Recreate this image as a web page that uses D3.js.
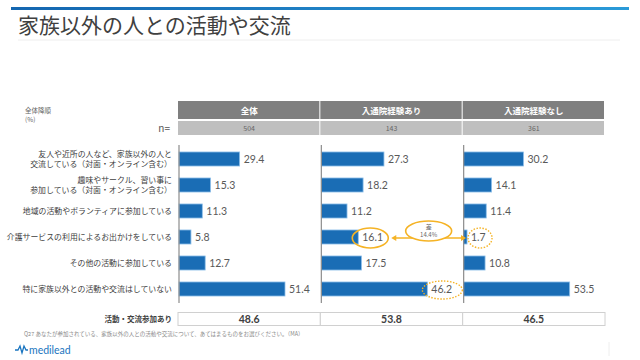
<!DOCTYPE html>
<html><head><meta charset="utf-8">
<script src="https://cdn.jsdelivr.net/npm/d3@7"></script>
<style>
html,body{margin:0;padding:0;background:#fff;}
svg{display:block;font-family:"Noto Sans CJK JP","Noto Sans",sans-serif;}
</style></head>
<body>
<svg id="c" width="640" height="360"></svg>
<script>
const title = "家族以外の人との活動や交流";
const categories = [
  ["友人や近所の人など、家族以外の人と","交流している（対面・オンライン含む）"],
  ["趣味やサークル、習い事に","参加している（対面・オンライン含む）"],
  ["地域の活動やボランティアに参加している"],
  ["介護サービスの利用によるお出かけをしている"],
  ["その他の活動に参加している"],
  ["特に家族以外との活動や交流はしていない"]
];
const groups = ["全体","入通院経験あり","入通院経験なし"];
const nValues = [504, 143, 361];
const valuesAll = [29.4, 15.3, 11.3, 5.8, 12.7, 51.4];
const valuesYes = [27.3, 18.2, 11.2, 16.1, 17.5, 46.2];
const valuesNo  = [30.2, 14.1, 11.4, 1.7, 10.8, 53.5];
const participation = [48.6, 53.8, 46.5];
const diffLabel = ["差","14.4%"];
const footnote = "Q27  あなたが参加されている、家族以外の人との活動や交流について、あてはまるものをお選びください。（MA）";

const series = [valuesAll, valuesYes, valuesNo];
const svg = d3.select("#c");

// top blue line
const grad = svg.append("defs").append("linearGradient").attr("id","g1");
grad.append("stop").attr("offset","0%").attr("stop-color","#1466b0");
grad.append("stop").attr("offset","100%").attr("stop-color","#2a9ad8");
svg.append("rect").attr("x",11).attr("y",7).attr("width",618).attr("height",3).attr("fill","url(#g1)");
svg.append("text").attr("x",18).attr("y",33).attr("font-size",21).attr("fill","#404040").text(title);
svg.append("line").attr("x1",18).attr("x2",620).attr("y1",40).attr("y2",40).attr("stroke","#eeeeee");

svg.append("text").attr("x",25).attr("y",113).attr("font-size",6.5).attr("fill","#666").text("全体降順");
svg.append("text").attr("x",25).attr("y",122).attr("font-size",6.5).attr("fill","#666").text("(%)");
svg.append("text").attr("x",170).attr("y",132).attr("font-size",10).attr("fill","#555").attr("text-anchor","end").text("n=");

const px = d3.scaleBand().domain(groups).range([178,605]).padding(0);
const y = d3.scaleBand().domain(d3.range(categories.length)).range([146,302]).paddingInner(0.46).paddingOuter(0.23);

// header
groups.forEach((g,i)=>{
  const x0 = px(g);
  svg.append("rect").attr("x",x0).attr("y",101).attr("width",px.bandwidth()-1).attr("height",18).attr("fill","#7f7f7f");
  svg.append("text").attr("x",x0+px.bandwidth()/2).attr("y",113.5).attr("text-anchor","middle").attr("font-size",8.5).attr("font-weight","bold").attr("fill","#fff").text(g);
  svg.append("rect").attr("x",x0).attr("y",121).attr("width",px.bandwidth()-1).attr("height",14).attr("fill","#bfbfbf");
  svg.append("text").attr("x",x0+px.bandwidth()/2).attr("y",131).attr("text-anchor","middle").attr("font-size",7).attr("fill","#666").text(nValues[i]);
});

// category labels
categories.forEach((lines,i)=>{
  const cy = y(i)+y.bandwidth()/2;
  const t = svg.append("text").attr("text-anchor","end").attr("font-size",7.9).attr("fill","#404040");
  const n = lines.length;
  lines.forEach((l,j)=>{
    t.append("tspan").attr("x",172).attr("y",cy + (j-(n-1)/2)*9.8 + 3).text(l);
  });
});

// panels
series.forEach((vals,i)=>{
  const x0 = px(groups[i]) + 1;
  const xs = d3.scaleLinear().domain([0,d3.max(vals)]).range([0,106]);
  const gp = svg.append("g").attr("transform",`translate(${x0},0)`);
  gp.selectAll("rect.bar").data(vals).join("rect").attr("class","bar")
    .attr("x",0).attr("y",(d,k)=>y(k)).attr("width",d=>xs(d)).attr("height",y.bandwidth())
    .attr("fill","#1a6db5").attr("stroke","#8fc0ea").attr("stroke-width",0.8);
  gp.selectAll("text.val").data(vals).join("text").attr("class","val")
    .attr("x",d=>xs(d)+4).attr("y",(d,k)=>y(k)+y.bandwidth()/2+4)
    .attr("font-size",10.5).attr("fill","#595959").attr("font-family","Lato, 'Noto Sans', sans-serif").text(d=>d.toFixed(1));
  gp.append("line").attr("x1",0).attr("x2",0).attr("y1",145).attr("y2",303).attr("stroke","#8c8c8c").attr("stroke-width",1.2);
});

// bottom row
svg.append("text").attr("x",172).attr("y",322).attr("text-anchor","end").attr("font-size",7.5).attr("font-weight","bold").attr("fill","#404040").text("活動・交流参加あり");
groups.forEach((g,i)=>{
  const x0 = px(g);
  svg.append("rect").attr("x",x0).attr("y",312.5).attr("width",px.bandwidth()).attr("height",13).attr("fill","#fff").attr("stroke","#d0d0d0");
  svg.append("text").attr("x",x0+px.bandwidth()/2).attr("y",323).attr("text-anchor","middle").attr("font-size",10.5).attr("font-weight","bold").attr("fill","#404040").attr("font-family","Lato, 'Noto Sans', sans-serif").text(participation[i].toFixed(1));
});

// annotations
const orange = "#f5b325";
function valCenter(si, k){
  const vals = series[si];
  const xs = d3.scaleLinear().domain([0,d3.max(vals)]).range([0,106]);
  return [px(groups[si])+1+xs(vals[k])+14, y(k)+y.bandwidth()/2];
}
const a1 = valCenter(1,3);
svg.append("ellipse").attr("cx",a1[0]-2).attr("cy",a1[1]+1).attr("rx",18).attr("ry",10).attr("fill","none").attr("stroke",orange).attr("stroke-width",1.6);
const a2 = valCenter(2,3);
svg.append("ellipse").attr("cx",a2[0]-1).attr("cy",a2[1]+1).attr("rx",12).attr("ry",10).attr("fill","none").attr("stroke",orange).attr("stroke-width",1.4).attr("stroke-dasharray","1.5,1.5");
const a3 = valCenter(1,5);
svg.append("ellipse").attr("cx",a3[0]+1).attr("cy",a3[1]+1).attr("rx",20).attr("ry",9).attr("fill","none").attr("stroke",orange).attr("stroke-width",1.4).attr("stroke-dasharray","1.5,1.5");
// arrow
const ax1 = a1[0]+19, ax2 = a2[0]-15, ay = a1[1]+1;
svg.append("line").attr("x1",ax1+4).attr("x2",ax2-4).attr("y1",ay).attr("y2",ay).attr("stroke",orange).attr("stroke-width",1.4);
svg.append("path").attr("d",`M${ax1},${ay} l5,-3 l0,6 z M${ax2},${ay} l-5,-3 l0,6 z`).attr("fill",orange);
const mcx = (ax1+ax2)/2, mcy = ay-7;
svg.append("ellipse").attr("cx",mcx).attr("cy",mcy).attr("rx",23).attr("ry",10).attr("fill","#fff").attr("stroke",orange).attr("stroke-width",1.6);
svg.append("text").attr("x",mcx).attr("y",mcy-2).attr("text-anchor","middle").attr("font-size",6).attr("fill","#666").text(diffLabel[0]);
svg.append("text").attr("x",mcx).attr("y",mcy+6).attr("text-anchor","middle").attr("font-size",6).attr("fill","#666").text(diffLabel[1]);

// footnote
svg.append("text").attr("x",24).attr("y",336).attr("font-size",5.5).attr("fill","#888").text(footnote);

// logo
svg.append("path").attr("d","M15,350 l3,0 l2,-4 l2,7 l2,-7 l2,4 l2,0").attr("fill","none").attr("stroke","#1a75c0").attr("stroke-width",1.3);
svg.append("text").attr("x",29).attr("y",353.5).attr("font-size",10.5).attr("fill","#1a75c0").attr("font-family","Lato, 'Noto Sans', sans-serif").text("medilead");
svg.append("line").attr("x1",609).attr("x2",609).attr("y1",342).attr("y2",356).attr("stroke","#eeeeee");
</script>
</body></html>
